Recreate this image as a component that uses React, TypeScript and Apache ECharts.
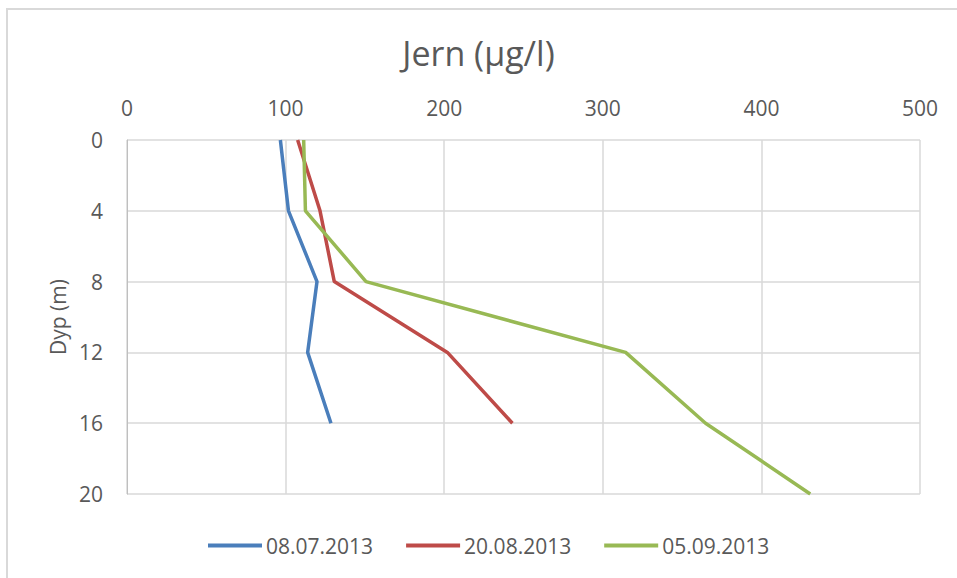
import React, { useEffect, useRef } from "react";
import * as echarts from "echarts";

const depths = [0, 4, 8, 12, 16, 20];
const seriesNames = ["08.07.2013", "20.08.2013", "05.09.2013"];
const iron0807 = [96.7, 101.8, 119.8, 113.9, 128.6];
const iron2008 = [107.6, 121.7, 130.7, 202, 243];
const iron0509 = [111.4, 112.5, 150.7, 314.4, 364.8, 430.8];
const colors = ["#4A7EBB", "#BE4B48", "#98B954"];
const xTicks = [0, 100, 200, 300, 400, 500];

const toPairs = (vals: number[]) => vals.map((v, i) => [v, depths[i]]);

export default function App() {
  const ref = useRef<HTMLDivElement>(null);
  useEffect(() => {
    if (!ref.current) return;
    const chart = echarts.init(ref.current, null, { renderer: "svg" });
    const font = "'Open Sans', 'Noto Sans', sans-serif";
    const allSeries = [iron0807, iron2008, iron0509];
    chart.setOption({
      animation: false,
      backgroundColor: "#ffffff",
      textStyle: { fontFamily: font },
      title: {
        text: "Jern (µg/l)",
        left: "center",
        top: 31,
        textStyle: { fontFamily: font, fontSize: 34, fontWeight: "normal", color: "#595959" },
      },
      legend: {
        bottom: 17,
        left: 203,
        itemWidth: 54,
        itemHeight: 4,
        itemGap: 33,
        icon: "rect",
        textStyle: { fontFamily: font, fontSize: 21, color: "#595959", padding: [0, 0, 0, -1] },
        data: seriesNames,
      },
      grid: { left: 127, top: 140, right: 37, bottom: 84 },
      xAxis: {
        type: "value",
        position: "top",
        min: xTicks[0],
        max: xTicks[xTicks.length - 1],
        interval: 100,
        axisLine: { show: false },
        axisTick: { show: false },
        axisLabel: { color: "#595959", fontSize: 21, fontFamily: font, margin: 22 },
        splitLine: { lineStyle: { color: "#D9D9D9", width: 1.5 } },
      },
      yAxis: {
        type: "value",
        inverse: true,
        min: 0,
        max: 20,
        interval: 4,
        name: "Dyp (m)",
        nameLocation: "middle",
        nameGap: 55,
        nameTextStyle: { color: "#595959", fontSize: 21, fontFamily: font },
        axisLine: { show: true, lineStyle: { color: "#BFBFBF", width: 1 } },
        axisTick: { show: false },
        axisLabel: { color: "#595959", fontSize: 21, fontFamily: font, margin: 24 },
        splitLine: { lineStyle: { color: "#D9D9D9", width: 1.5 } },
      },
      series: allSeries.map((vals, i) => ({
        name: seriesNames[i],
        type: "line",
        data: toPairs(vals),
        showSymbol: false,
        symbol: "none",
        lineStyle: { color: colors[i], width: 3.5 },
        itemStyle: { color: colors[i] },
      })),
    });
    return () => chart.dispose();
  }, []);
  return (
    <div style={{ position: "fixed", left: 0, top: 0, width: 957, height: 578, background: "#fff" }}>
      <div ref={ref} style={{ position: "absolute", left: 0, top: 0, width: 957, height: 578 }} />
      <div
        style={{
          position: "absolute",
          left: 6,
          top: 8,
          width: 1000,
          height: 600,
          border: "2px solid #D9D9D9",
          pointerEvents: "none",
        }}
      />
    </div>
  );
}
